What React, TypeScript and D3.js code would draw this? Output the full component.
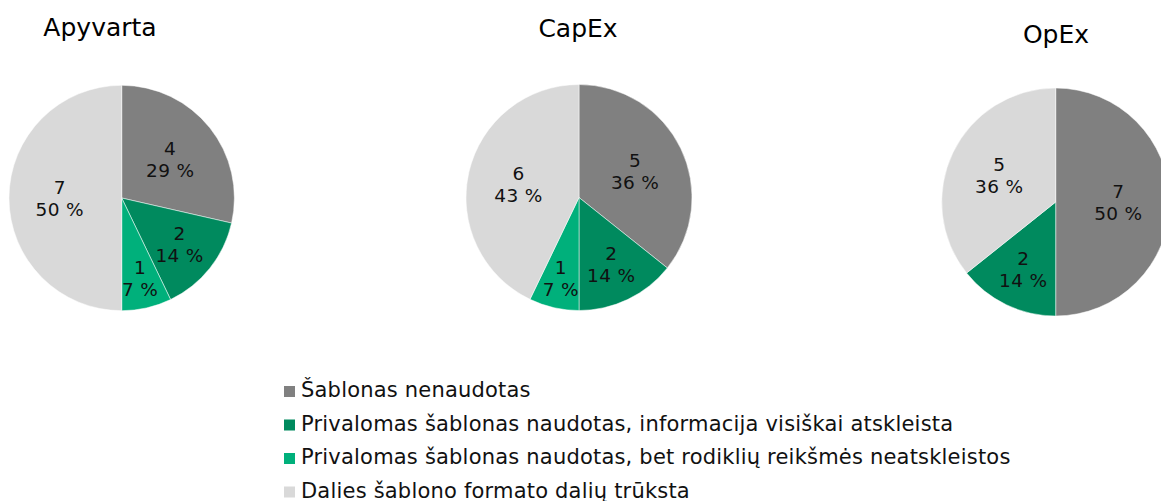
import React from "react";
import * as d3 from "d3";

const categories = ["Apyvarta", "CapEx", "OpEx"];
const seriesNames = [
  "Šablonas nenaudotas",
  "Privalomas šablonas naudotas, informacija visiškai atskleista",
  "Privalomas šablonas naudotas, bet rodiklių reikšmės neatskleistos",
  "Dalies šablono formato dalių trūksta",
];
const notUsed = [4, 5, 7];
const fullyDisclosed = [2, 2, 2];
const notDisclosed = [1, 1, 0];
const partMissing = [7, 6, 5];

const colors = ["#808080", "#008A5E", "#00B07B", "#D9D9D9"];

// layout
const W = 1161;
const H = 501;
const pieLayout = [
  { cx: 121.7, cy: 198, r: 112.7, tx: 100, ty: 36 },
  { cx: 579, cy: 197.5, r: 113, tx: 578, ty: 37 },
  { cx: 1055.7, cy: 202, r: 114, tx: 1056, ty: 43 },
];
const FONT = "'DejaVu Sans', Verdana, sans-serif";

export default function App() {
  const series = [notUsed, fullyDisclosed, notDisclosed, partMissing];
  const pieGen = d3
    .pie<{ v: number; i: number }>()
    .sort(null)
    .value((d) => d.v);

  return (
    <svg
      width={W}
      height={H}
      style={{ position: "absolute", left: 0, top: 0, background: "#fff" }}
      fontFamily={FONT}
    >
      {categories.map((cat, ci) => {
        const L = pieLayout[ci];
        const vals = series.map((s, i) => ({ v: s[ci], i }));
        const total = d3.sum(vals, (d) => d.v);
        const arcs = pieGen(vals);
        const arcGen = d3
          .arc<d3.PieArcDatum<{ v: number; i: number }>>()
          .innerRadius(0)
          .outerRadius(L.r);
        return (
          <g key={cat}>
            <text
              x={L.tx}
              y={L.ty}
              textAnchor="middle"
              fontSize={25}
              fill="#000"
            >
              {cat}
            </text>
            <g transform={`translate(${L.cx},${L.cy})`}>
              {arcs
                .filter((a) => a.data.v > 0)
                .map((a) => (
                  <path
                    key={a.data.i}
                    d={arcGen(a) || ""}
                    fill={colors[a.data.i]}
                    stroke="#fff"
                    strokeWidth={0.5}
                  />
                ))}
              {arcs
                .filter((a) => a.data.v > 0)
                .map((a) => {
                  const share = a.data.v / total;
                  const frac = 0.55 + 0.25 * Math.max(0, 1 - share / 0.25);
                  const mid = (a.startAngle + a.endAngle) / 2;
                  const x = Math.sin(mid) * L.r * frac;
                  const y = -Math.cos(mid) * L.r * frac;
                  const pct = Math.round(share * 100);
                  return (
                    <text
                      key={"l" + a.data.i}
                      textAnchor="middle"
                      fontSize={18.5}
                      letterSpacing={0.3}
                      fill="#111"
                    >
                      <tspan x={x} y={y - 4}>
                        {a.data.v}
                      </tspan>
                      <tspan x={x} y={y + 18}>
                        {pct + " %"}
                      </tspan>
                    </text>
                  );
                })}
            </g>
          </g>
        );
      })}
      <g>
        {seriesNames.map((name, i) => {
          const baseline = 397 + i * 33.5;
          return (
            <g key={name}>
              <rect
                x={284}
                y={baseline - 11}
                width={11}
                height={11}
                fill={colors[i]}
              />
              <text
                x={301}
                y={baseline}
                fontSize={21}
                letterSpacing={0.2}
                fill="#111"
              >
                {name}
              </text>
            </g>
          );
        })}
      </g>
    </svg>
  );
}
